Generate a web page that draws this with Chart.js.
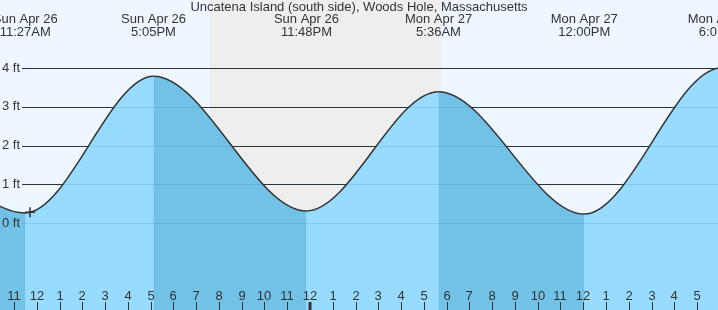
<!DOCTYPE html>
<html>
<head>
<meta charset="utf-8">
<script src="https://cdn.jsdelivr.net/npm/chart.js@4"></script>
<style>
  html, body { margin: 0; padding: 0; background: #eef7ff; }
  canvas { display: block; }
</style>
</head>
<body>
<canvas id="tide" width="718" height="310"></canvas>
<script>
// hours counted from Sun Apr 26 00:00
const extremeHours = [4.92, 11.45, 17.083, 23.8, 29.6, 36.0, 42.017, 48.5];
const extremeFeet  = [3.5, 0.26, 3.79, 0.31, 3.39, 0.23, 4.0, 0.2];
const extremeDays  = ["Sun Apr 26", "Sun Apr 26", "Sun Apr 26", "Sun Apr 26", "Mon Apr 27", "Mon Apr 27", "Mon Apr 27", "Tue Apr 28"];
const extremeTimes = ["4:55AM", "11:27AM", "5:05PM", "11:48PM", "5:36AM", "12:00PM", "6:01PM", "12:30AM"];

const nowHour = 11.66;
const nowFeet = 0.28;
const sunsetHour = 19.57;
const sunriseHour = 29.72;

const hourTickStart = 11;
const hourTickLabels = ["11", "12", "1", "2", "3", "4", "5", "6", "7", "8", "9", "10", "11",
  "12", "1", "2", "3", "4", "5", "6", "7", "8", "9", "10", "11",
  "12", "1", "2", "3", "4", "5"];
const footTicks = [0, 1, 2, 3, 4];
const footTickLabels = ["0 ft", "1 ft", "2 ft", "3 ft", "4 ft"];

const titleText = "Uncatena Island (south side), Woods Hole, Massachusetts";

const LIGHT = "#97dcff";
const DARK = "#72c1e6";
const INK = "#333333";
const FONT = "13px 'Liberation Sans', Arial, sans-serif";

const tidePts = extremeHours.map((h, i) => ({ x: h, y: extremeFeet[i] }));

const decor = {
  id: "decor",
  beforeDraw(chart) {
    const { ctx, width, height } = chart;
    const x = chart.scales.x;
    ctx.save();
    ctx.fillStyle = "#eef7ff";
    ctx.fillRect(0, 0, width, height);
    const a = x.getPixelForValue(sunsetHour), b = x.getPixelForValue(sunriseHour);
    ctx.fillStyle = "#eeeeee";
    ctx.fillRect(a, 0, b - a, height);
    ctx.restore();
  },
  beforeDatasetsDraw(chart) {
    const { ctx, width } = chart;
    const y = chart.scales.y;
    ctx.save();
    ctx.strokeStyle = INK;
    ctx.lineWidth = 1;
    footTicks.forEach(v => {
      const py = Math.round(y.getPixelForValue(v)) + 0.5;
      ctx.beginPath();
      ctx.moveTo(22, py);
      ctx.lineTo(width, py);
      ctx.stroke();
    });
    ctx.restore();
  },
  afterDatasetsDraw(chart) {
    const { ctx, width, height } = chart;
    const x = chart.scales.x, y = chart.scales.y;
    ctx.save();
    // faint lines through the water
    ctx.strokeStyle = "rgba(0,60,110,0.12)";
    ctx.lineWidth = 1;
    footTicks.forEach(v => {
      const py = Math.round(y.getPixelForValue(v)) + 0.5;
      ctx.beginPath();
      ctx.moveTo(22, py);
      ctx.lineTo(width, py);
      ctx.stroke();
    });

    ctx.font = FONT;
    ctx.fillStyle = INK;
    ctx.textBaseline = "middle";

    // foot labels
    ctx.textAlign = "right";
    footTicks.forEach((v, i) => {
      ctx.fillText(footTickLabels[i], 20, y.getPixelForValue(v));
    });

    // hour labels and ticks
    ctx.textAlign = "center";
    ctx.strokeStyle = INK;
    hourTickLabels.forEach((lab, i) => {
      const h = hourTickStart + i;
      const px = Math.round(x.getPixelForValue(h)) - 1;
      const midnight = h % 24 === 0;
      ctx.fillText(lab, px, 296);
      ctx.lineWidth = midnight ? 3 : 1;
      ctx.beginPath();
      ctx.moveTo(px + (midnight ? 0 : 0.5), 302);
      ctx.lineTo(px + (midnight ? 0 : 0.5), height);
      ctx.stroke();
    });

    // extreme labels
    extremeHours.forEach((h, i) => {
      const px = x.getPixelForValue(h);
      if (px < -60 || px > width + 60) return;
      ctx.fillText(extremeDays[i], px, 19);
      ctx.fillText(extremeTimes[i], px, 32);
    });

    // title
    ctx.fillText(titleText, width / 2, 7);
    ctx.restore();
  }
};

new Chart(document.getElementById("tide"), {
  type: "line",
  data: {
    datasets: [{
      // "now" marker
      data: [{ x: nowHour, y: nowFeet }],
      showLine: false,
      pointStyle: "cross",
      pointRadius: 5,
      borderColor: INK,
      borderWidth: 1.5
    }, {
      // falling tide shading + outline
      data: tidePts,
      borderColor: INK,
      borderWidth: 1.5,
      backgroundColor: "rgba(0,0,0,0)",
      fill: "start",
      cubicInterpolationMode: "monotone",
      pointRadius: 0,
      segment: {
        backgroundColor: c => c.p1.parsed.y < c.p0.parsed.y ? DARK : "rgba(0,0,0,0)"
      }
    }, {
      // base water
      data: tidePts,
      borderWidth: 0,
      borderColor: "rgba(0,0,0,0)",
      backgroundColor: LIGHT,
      fill: "start",
      cubicInterpolationMode: "monotone",
      pointRadius: 0
    }]
  },
  options: {
    responsive: false,
    animation: false,
    devicePixelRatio: 1,
    layout: { padding: 0, autoPadding: false },
    events: [],
    scales: {
      x: { type: "linear", min: 10.341, max: 41.874, display: false },
      y: { min: -2.245, max: 5.755, display: false }
    },
    plugins: { legend: { display: false }, tooltip: { enabled: false }, title: { display: false } }
  },
  plugins: [decor]
});
</script>
</body>
</html>
